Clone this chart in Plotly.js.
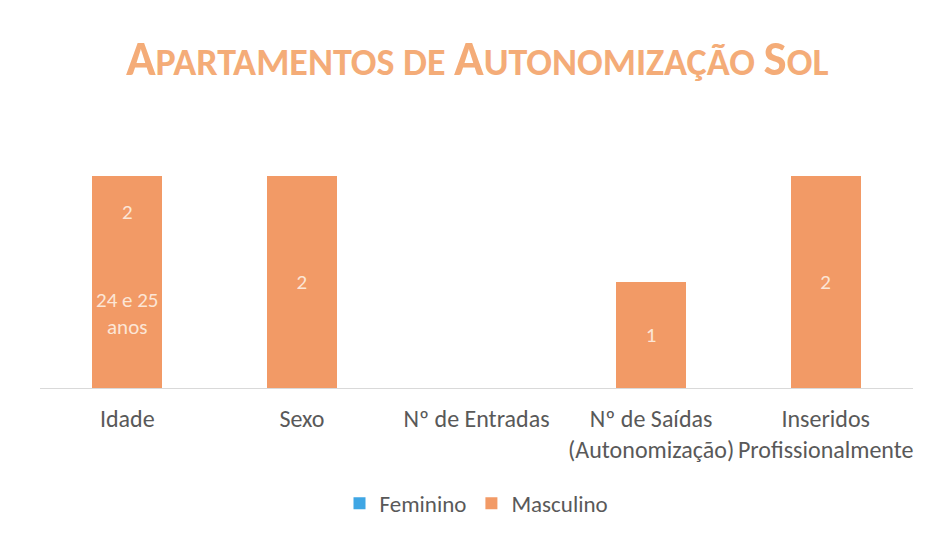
<!DOCTYPE html>
<html><head><meta charset="utf-8">
<script src="https://cdn.plot.ly/plotly-3.0.1.min.js"></script>
<style>body{margin:0;background:#fff}#c{width:932px;height:536px}</style>
</head><body><div id="c"></div>
<script>
const categories = ["Idade", "Sexo", "Nº de Entradas", "Nº de Saídas<br>(Autonomização)", "Inseridos<br>Profissionalmente"];
const feminino = [0, 0, 0, 0, 0];
const masculino = [2, 2, 0, 1, 2];
const masculinoLabels = ["", "2", "", "1", "2"];
const idadeLabels = ["2", "24 e 25<br>anos"];
const idadeLabelValues = [1.66, 0.7];

const FONT = "Carlito, Calibri, 'Liberation Sans Narrow', 'Noto Sans', sans-serif";
const orange = "#F29A66";

const traces = [
  {type: "bar", name: "Feminino", x: categories, y: feminino, marker: {color: "#3FA6E4"}, hoverinfo: "skip"},
  {type: "bar", name: "Masculino", x: categories, y: masculino, marker: {color: orange},
   text: masculinoLabels, textposition: "inside", insidetextanchor: "middle", constraintext: "none",
   textfont: {family: FONT, size: 21, color: "#FCE6D6"}, hoverinfo: "skip"}
];

const annotations = idadeLabels.map((t, i) => ({
  x: categories[0], y: idadeLabelValues[i], xref: "x", yref: "y", text: t, showarrow: false,
  font: {family: FONT, size: 21, color: "#FCE6D6"}
}));

const layout = {
  width: 932, height: 536,
  paper_bgcolor: "#fff", plot_bgcolor: "#fff",
  margin: {l: 40, r: 19, t: 123, b: 147},
  barmode: "stack", bargap: 0.6,
  showlegend: true,
  legend: {orientation: "h", x: 0.5, xanchor: "center", y: -0.43, yanchor: "middle",
           font: {family: FONT, size: 23, color: "#595959"}, itemwidth: 30, traceorder: "normal"},
  title: {
    text: '<span style="font-size:49px">A</span>PARTAMENTOS DE <span style="font-size:49px">A</span>UTONOMIZAÇÃO <span style="font-size:49px">S</span>OL',
    font: {family: FONT, size: 38, color: "#F4AC78", weight: "bold"},
    x: 0.512, xanchor: "center", y: 0.885, yanchor: "middle"
  },
  xaxis: {type: "category", showline: true, linecolor: "#D9D9D9", linewidth: 1,
          ticks: "outside", ticklen: 9, tickcolor: "rgba(0,0,0,0)",
          tickfont: {family: FONT, size: 24, color: "#595959"}, showgrid: false, zeroline: false},
  yaxis: {range: [0, 2.5], showticklabels: false, showgrid: false, zeroline: false, showline: false},
  annotations: annotations
};

Plotly.newPlot("c", traces, layout, {displayModeBar: false, staticPlot: true});
</script></body></html>
